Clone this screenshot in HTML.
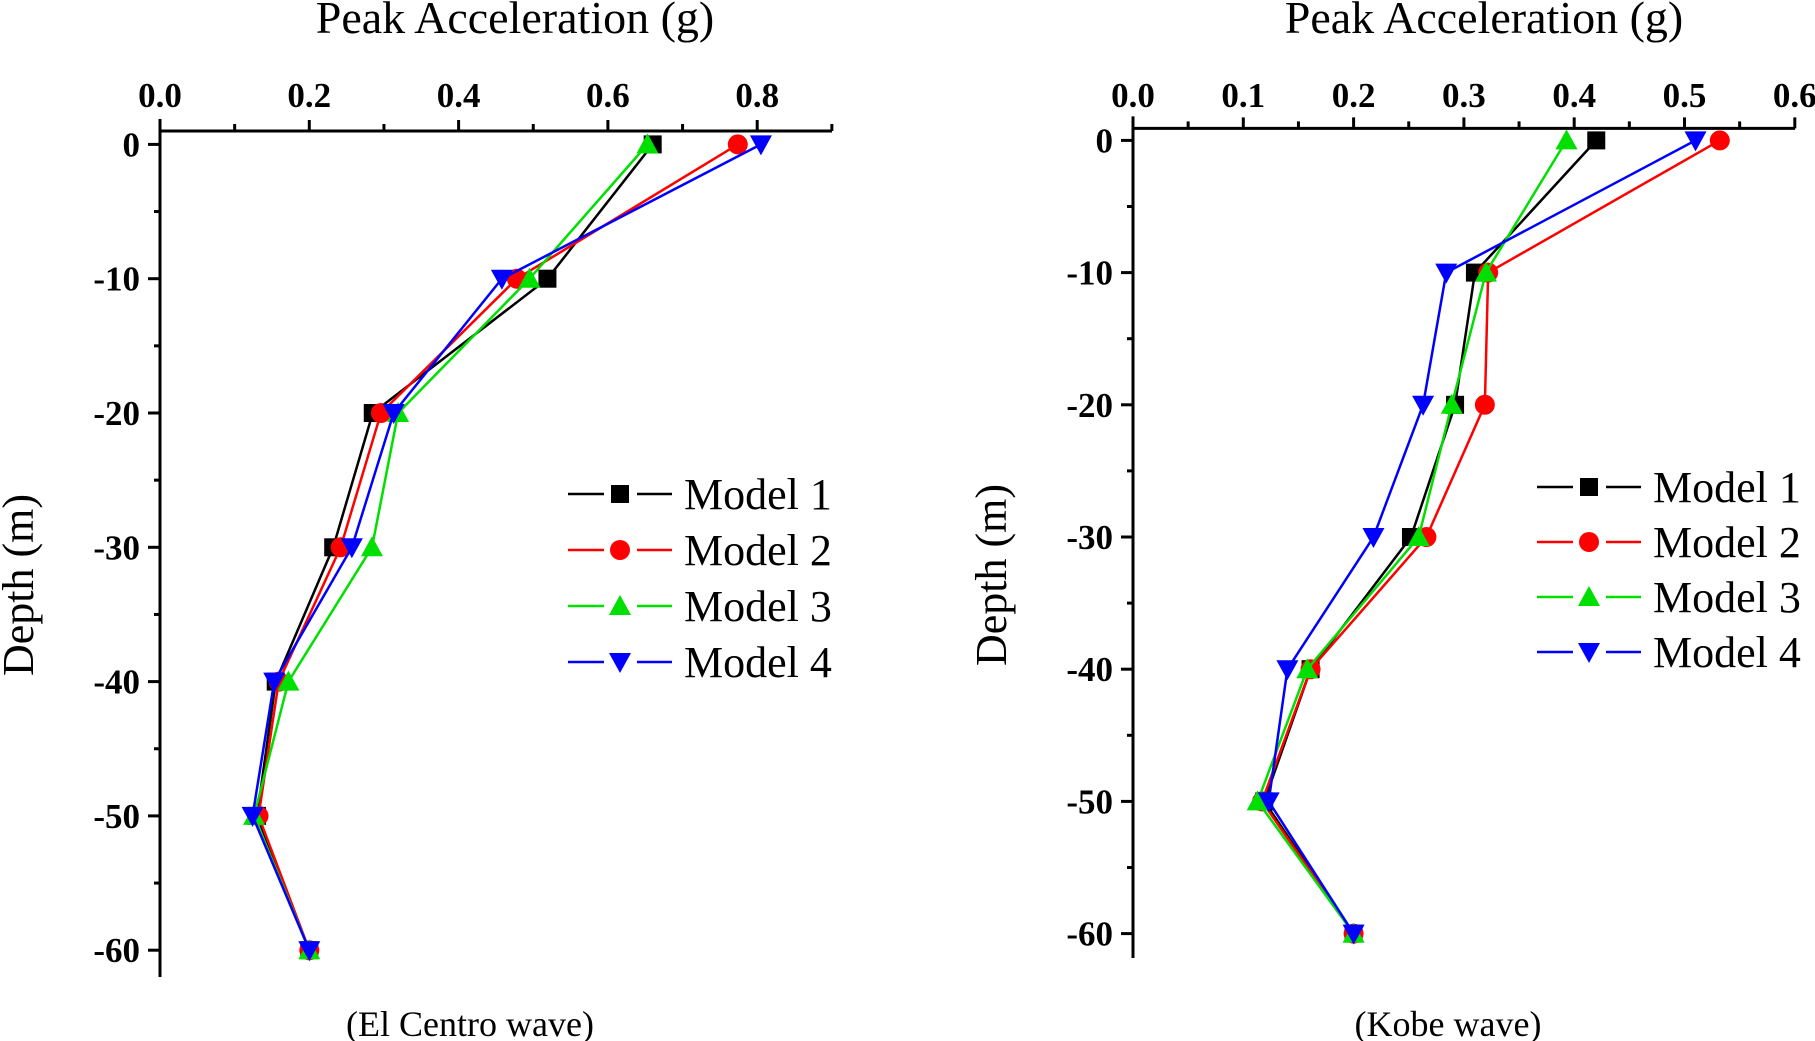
<!DOCTYPE html>
<html><head><meta charset="utf-8">
<style>
html,body{margin:0;padding:0;background:#fff;}
svg{display:block;font-family:"Liberation Serif",serif;}
</style></head>
<body>
<svg id="chart" width="1815" height="1041" viewBox="0 0 1815 1041" xmlns="http://www.w3.org/2000/svg"></svg>
<script>
const depths = [0, -10, -20, -30, -40, -50, -60];
const modelNames = ["Model 1", "Model 2", "Model 3", "Model 4"];
const elCentroM1 = [0.66, 0.519, 0.285, 0.232, 0.155, 0.13, 0.2];
const elCentroM2 = [0.774, 0.478, 0.296, 0.242, 0.159, 0.132, 0.2];
const elCentroM3 = [0.653, 0.495, 0.319, 0.284, 0.172, 0.126, 0.2];
const elCentroM4 = [0.805, 0.458, 0.313, 0.257, 0.153, 0.124, 0.2];
const kobeM1 = [0.42, 0.31, 0.292, 0.252, 0.161, 0.119, 0.2];
const kobeM2 = [0.532, 0.322, 0.319, 0.266, 0.161, 0.117, 0.2];
const kobeM3 = [0.393, 0.32, 0.289, 0.259, 0.158, 0.113, 0.2];
const kobeM4 = [0.51, 0.284, 0.263, 0.218, 0.14, 0.123, 0.2];
const leftXTicks = ["0.0", "0.2", "0.4", "0.6", "0.8"];
const rightXTicks = ["0.0", "0.1", "0.2", "0.3", "0.4", "0.5", "0.6"];
const yTicks = ["0", "-10", "-20", "-30", "-40", "-50", "-60"];

const colors = ["#000000", "#ff0000", "#00e000", "#0000ff"];
const shapes = ["square", "circle", "up", "down"];
const NS = "http://www.w3.org/2000/svg";
const svg = document.getElementById("chart");
function mk(tag, attrs, parent) {
  const e = document.createElementNS(NS, tag);
  for (const k in attrs) e.setAttribute(k, attrs[k]);
  (parent || svg).appendChild(e);
  return e;
}
function marker(shape, x, y, color, g) {
  let e;
  if (shape === "square") e = mk("rect", {x: x - 9, y: y - 9, width: 18, height: 18, fill: color}, g);
  else if (shape === "circle") e = mk("circle", {cx: x, cy: y, r: 10, fill: color}, g);
  else if (shape === "up") e = mk("polygon", {points: `${x},${y - 11} ${x - 11},${y + 9} ${x + 11},${y + 9}`, fill: color}, g);
  else e = mk("polygon", {points: `${x},${y + 11} ${x - 11},${y - 9} ${x + 11},${y - 9}`, fill: color}, g);
  return e;
}

function panel(cfg) {
  const g = mk("g", {});
  
  
  const xs = v => cfg.x0 + v / cfg.xStep * cfg.xPx;
  const ys = d => cfg.y0 + (-d) / 10 * cfg.yPx;
  const ax = mk("path", {d: `M${cfg.x0},${cfg.axisY} H${cfg.xEnd} M${cfg.x0},${cfg.axisY - 12} V${cfg.yBottom}`, stroke: "#000", "stroke-width": 3, fill: "none"}, g);
  
  
  const nMinor = Math.round((cfg.xMax) / cfg.xMinor);
  for (let i = 0; i <= nMinor; i++) {
    const v = i * cfg.xMinor;
    const x = xs(v);
    const major = i % cfg.majorEvery === 0;
    mk("line", {x1: x, x2: x, y1: cfg.axisY, y2: cfg.axisY - (major ? 11 : 7), stroke: "#000", "stroke-width": 3}, g);
  }
  cfg.xTicks.forEach((t, i) => {
    const tx = mk("text", {x: xs(parseFloat(t)), y: 107, "text-anchor": "middle", "font-size": 35, "font-weight": "bold"}, g);
    tx.textContent = t;
    
    
  });
  for (let d = 0; d >= -60; d -= 5) {
    const y = ys(d);
    const major = d % 10 === 0;
    mk("line", {x1: cfg.x0, x2: cfg.x0 - (major ? 12 : 6), y1: y, y2: y, stroke: "#000", "stroke-width": 3}, g);
  }
  yTicks.forEach(t => {
    const tx = mk("text", {x: cfg.x0 - 20, y: ys(parseFloat(t)) + 12, "text-anchor": "end", "font-size": 35, "font-weight": "bold"}, g);
    tx.textContent = t;
    
    
  });
  const tt = mk("text", {x: cfg.titleX, y: 33, "text-anchor": "middle", "font-size": 46}, g);
  tt.textContent = "Peak Acceleration (g)";
  
  
  const yt = mk("text", {x: 0, y: 0, "text-anchor": "middle", "font-size": 44, transform: `translate(${cfg.yTitleX},${cfg.yTitleY}) rotate(-90)`}, g);
  yt.textContent = "Depth (m)";
  
  
  const cap = mk("text", {x: cfg.capX, y: 1036, "text-anchor": "middle", "font-size": 36}, g);
  cap.textContent = cfg.caption;
  
  
  cfg.series.forEach((vals, si) => {
    const pts = vals.map((v, i) => `${xs(v)},${ys(depths[i])}`).join(" ");
    const pl = mk("polyline", {points: pts, fill: "none", stroke: colors[si], "stroke-width": 2.5}, g);
    
    
    vals.forEach((v, i) => {
      const m = marker(shapes[si], xs(v), ys(depths[i]), colors[si], g);
      
      
    });
  });
  modelNames.forEach((name, si) => {
    const y = cfg.legY + si * cfg.legGap;
    const lg = mk("g", {}, g);
    
    
    mk("line", {x1: cfg.legX, x2: cfg.legX + 36, y1: y, y2: y, stroke: colors[si], "stroke-width": 2.5}, lg);
    mk("line", {x1: cfg.legX + 69, x2: cfg.legX + 104, y1: y, y2: y, stroke: colors[si], "stroke-width": 2.5}, lg);
    marker(shapes[si], cfg.legX + 52, y, colors[si], lg);
    const t = mk("text", {x: cfg.legX + 116, y: y + 15, "font-size": 44}, lg);
    t.textContent = name;
  });
}

panel({id: "el-centro", x0: 160, xStep: 0.1, xPx: 74.65, xMax: 0.9, xMinor: 0.1, majorEvery: 2, xEnd: 832,
  axisY: 131, y0: 144.4, yPx: 134.3, yBottom: 977, xTicks: leftXTicks,
  titleX: 515, yTitleX: 33, yTitleY: 585, capX: 470, caption: "(El Centro wave)",
  series: [elCentroM1, elCentroM2, elCentroM3, elCentroM4], legX: 568, legY: 494, legGap: 56});
panel({id: "kobe", x0: 1133, xStep: 0.1, xPx: 110.3, xMax: 0.6, xMinor: 0.05, majorEvery: 2, xEnd: 1795,
  axisY: 128.4, y0: 140.4, yPx: 132.2, yBottom: 958, xTicks: rightXTicks,
  titleX: 1484, yTitleX: 1006, yTitleY: 575, capX: 1448, caption: "(Kobe wave)",
  series: [kobeM1, kobeM2, kobeM3, kobeM4], legX: 1537, legY: 487, legGap: 55});
</script>
</body></html>
